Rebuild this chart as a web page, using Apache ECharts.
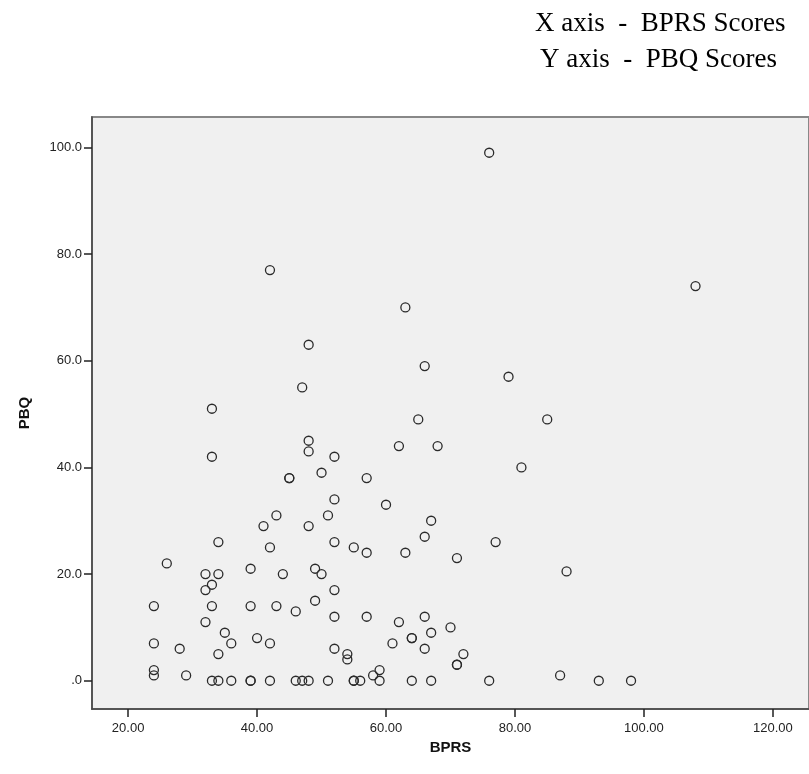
<!DOCTYPE html>
<html>
<head>
<meta charset="utf-8">
<script src="https://cdn.jsdelivr.net/npm/echarts@6/dist/echarts.min.js"></script>
<style>
html,body{margin:0;padding:0;background:#fff;}
#chart{width:809px;height:774px;}
</style>
</head>
<body>
<div id="chart"></div>
<script>
// BPRS (x) and PBQ (y) scores
const bprs = [76,108,42,63,48,47,66,79,33,65,85,48,48,33,52,62,68,50,45,45,57,81,52,60,43,51,41,48,67,34,52,66,77,42,55,57,63,71,26,32,34,39,44,49,50,88,33,32,52,49,24,33,39,43,46,52,57,66,32,62,70,35,67,40,64,64,24,36,42,61,28,52,66,34,54,54,72,71,71,24,59,24,29,58,87,
  33,34,36,39,39,42,46,47,48,51,55,55,56,59,64,67,76,93,98];
const pbq = [99,74,77,70,63,55,59,57,51,49,49,45,43,42,42,44,44,39,38,38,38,40,34,33,31,31,29,29,30,26,26,27,26,25,25,24,24,23,22,20,20,21,20,21,20,20.5,18,17,17,15,14,14,14,14,13,12,12,12,11,11,10,9,9,8,8,8,7,7,7,7,6,6,6,5,5,4,5,3,3,2,2,1,1,1,1,
  0,0,0,0,0,0,0,0,0,0,0,0,0,0,0,0,0,0,0];
const xTicks = [20,40,60,80,100,120];
const yTicks = [0,20,40,60,80,100];
const titleLines = ['X axis  -  BPRS Scores', 'Y axis  -  PBQ Scores'];

const points = bprs.map((x, i) => [x, pbq[i]]);

const chart = echarts.init(document.getElementById('chart'), null, {renderer: 'canvas'});
const axisFont = {fontFamily: 'Liberation Sans, Arial, sans-serif', fontSize: 13, color: '#222'};
chart.setOption({
  animation: false,
  backgroundColor: '#fff',
  graphic: [
    {type: 'text', left: 535, top: 10, style: {text: titleLines[0], font: '27px "Liberation Serif", "Times New Roman", serif', fill: '#000'}},
    {type: 'text', left: 540, top: 46, style: {text: titleLines[1], font: '27px "Liberation Serif", "Times New Roman", serif', fill: '#000'}}
  ],
  grid: {
    left: 92, right: -2, top: 117, bottom: 65,
    show: true, backgroundColor: '#f0f0f0', borderColor: '#888', borderWidth: 2
  },
  xAxis: {
    type: 'value', min: 14.4, max: 125.6,
    name: 'BPRS', nameLocation: 'middle', nameGap: 26,
    nameTextStyle: {fontFamily: 'Liberation Sans, Arial, sans-serif', fontWeight: 'bold', fontSize: 15, color: '#111'},
    splitLine: {show: false},
    axisLine: {show: true, onZero: false, lineStyle: {color: '#444', width: 1.5}},
    axisTick: {show: true, length: 8, lineStyle: {color: '#222', width: 1.5}, customValues: xTicks},
    axisLabel: Object.assign({margin: 13, customValues: xTicks, formatter: v => v.toFixed(2)}, axisFont)
  },
  yAxis: {
    type: 'value', min: -5.3, max: 105.7,
    name: 'PBQ', nameLocation: 'middle', nameGap: 60, nameRotate: 90,
    nameTextStyle: {fontFamily: 'Liberation Sans, Arial, sans-serif', fontWeight: 'bold', fontSize: 15, color: '#111'},
    splitLine: {show: false},
    axisLine: {show: true, onZero: false, lineStyle: {color: '#444', width: 1.5}},
    axisTick: {show: true, length: 8, lineStyle: {color: '#222', width: 1.5}, customValues: yTicks},
    axisLabel: Object.assign({margin: 10, customValues: yTicks, formatter: v => (v === 0 ? '.0' : v.toFixed(1))}, axisFont)
  },
  series: [{
    type: 'scatter',
    data: points,
    symbol: 'circle',
    symbolSize: 9,
    itemStyle: {color: 'rgba(0,0,0,0)', borderColor: '#2a2a2a', borderWidth: 1.3, opacity: 1}
  }]
});
</script>
</body>
</html>
